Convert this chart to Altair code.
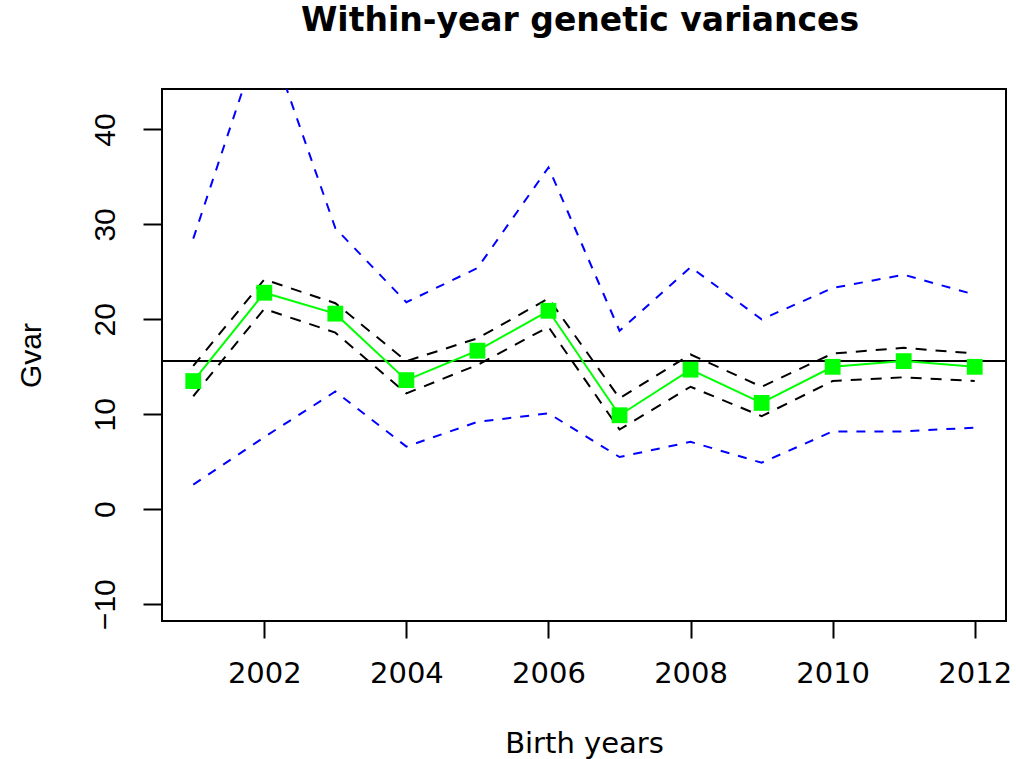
import altair as alt
import pandas as pd

# Birth years and the within-year genetic variance estimates
years = list(range(2001, 2013))
gvar = [13.5, 22.8, 20.6, 13.6, 16.7, 20.9, 9.9, 14.7, 11.2, 15.0, 15.6, 15.0]
# narrow interval (black dashed)
ci_lower = [11.9, 21.1, 18.6, 12.2, 15.2, 19.2, 8.4, 12.9, 9.8, 13.5, 13.9, 13.5]
ci_upper = [15.1, 24.2, 21.7, 15.6, 18.0, 22.2, 11.7, 16.3, 12.9, 16.4, 17.0, 16.4]
# wide interval (blue dashed)
pi_lower = [2.6, 7.6, 12.4, 6.6, 9.2, 10.1, 5.5, 7.1, 4.9, 8.2, 8.2, 8.6]
pi_upper = [28.5, 51.0, 29.6, 21.8, 25.4, 36.0, 18.8, 25.5, 20.0, 23.3, 24.7, 22.6]
# overall genetic variance (horizontal reference line)
overall = [15.6]

x_ticks = [2002, 2004, 2006, 2008, 2010, 2012]
y_ticks = [-10, 0, 10, 20, 30, 40]

df = pd.DataFrame({
    "year": years,
    "gvar": gvar,
    "ci_lower": ci_lower,
    "ci_upper": ci_upper,
    "pi_lower": pi_lower,
    "pi_upper": pi_upper,
})
ref = pd.DataFrame({"overall": overall})

W, H = 844, 532

x_axis = alt.Axis(
    values=x_ticks, format="d", grid=False, domain=False,
    tickSize=17, tickWidth=2, tickColor="black",
    labelFont="DejaVu Sans", labelFontSize=29, labelColor="black",
    labelBaseline="alphabetic", labelPadding=44,
    labelFlush=False, labelOverlap=False,
    title="Birth years", titleFont="DejaVu Sans", titleFontSize=29,
    titleFontWeight="normal", titleColor="black",
    titleX=W / 2, titleY=131, titleBaseline="alphabetic", titleAlign="center",
)
y_axis = alt.Axis(
    values=y_ticks, format="d", grid=False, domain=False,
    tickSize=19, tickWidth=2, tickColor="black",
    labelFont="Liberation Sans", labelFontSize=30, labelColor="black",
    labelAngle=270, labelAlign="center", labelBaseline="alphabetic",
    labelPadding=29, labelOverlap=False,
    title="Gvar", titleFont="Liberation Sans", titleFontSize=30,
    titleFontWeight="normal", titleColor="black",
    titleAngle=270, titleX=-122, titleY=H / 2,
    titleBaseline="alphabetic", titleAlign="center",
)

x_scale = alt.Scale(domain=[2000.56, 2012.44], nice=False, zero=False)
y_scale = alt.Scale(domain=[-11.77, 44.26], nice=False, zero=False)

base = alt.Chart(df)


def dashed(field, color, dash):
    return base.mark_line(
        color=color, strokeWidth=2, strokeDash=dash, clip=True
    ).encode(
        x=alt.X("year:Q", scale=x_scale, axis=x_axis),
        y=alt.Y(f"{field}:Q", scale=y_scale, axis=y_axis),
    )


pi_hi = dashed("pi_upper", "#0000FF", [9, 9])
pi_lo = dashed("pi_lower", "#0000FF", [9, 9])
ci_hi = dashed("ci_upper", "black", [11, 9])
ci_lo = dashed("ci_lower", "black", [11, 9])

hline = alt.Chart(ref).mark_rule(color="black", strokeWidth=2).encode(
    y=alt.Y("overall:Q", scale=y_scale, axis=y_axis)
)

green_line = base.mark_line(color="#00FF00", strokeWidth=2).encode(
    x=alt.X("year:Q", scale=x_scale, axis=x_axis),
    y=alt.Y("gvar:Q", scale=y_scale, axis=y_axis),
)
green_pts = base.mark_square(
    color="#00FF00", opacity=1, filled=True, size=250
).encode(
    x=alt.X("year:Q", scale=x_scale, axis=x_axis),
    y=alt.Y("gvar:Q", scale=y_scale, axis=y_axis),
)

chart = alt.layer(
    pi_hi, pi_lo, ci_hi, ci_lo, hline, green_line, green_pts
).properties(
    width=W,
    height=H,
    background="white",
    title=alt.TitleParams(
        "Within-year genetic variances",
        font="DejaVu Sans", fontSize=33, fontWeight="bold", color="black",
        anchor="middle", baseline="alphabetic", offset=25, dx=-4,
    ),
    autosize=alt.AutoSizeParams(type="none"),
    padding={"left": 162, "top": 89, "right": 10, "bottom": 138},
).configure_view(
    stroke="black", strokeWidth=2
)

chart.save("out.html", embed_options={"renderer": "svg", "actions": False})
